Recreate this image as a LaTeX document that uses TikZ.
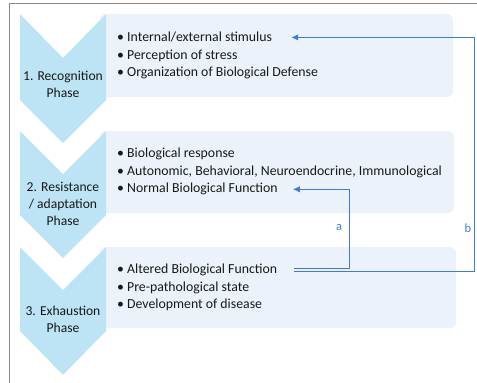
\documentclass[tikz,border=0pt]{standalone}
\usepackage{fontspec}
\setmainfont{Carlito}
\usetikzlibrary{calc,arrows.meta}
\definecolor{chev}{HTML}{BDE4F4}
\definecolor{boxc}{HTML}{EBF2F9}
\definecolor{arrc}{HTML}{3C7DD9}
\definecolor{framec}{HTML}{8A8A8A}
\begin{document}
\begin{tikzpicture}[x=1pt,y=-1pt,
  chevshape/.style={fill=chev,draw=none},
  panel/.style={fill=boxc,draw=none,rounded corners=6pt},
  item/.style={anchor=mid west,inner sep=0pt,font=\fontsize{13.8}{16}\selectfont,text=black!90},
  phase/.style={align=center,inner sep=0pt,font=\fontsize{13.6}{17}\selectfont,text=black!90},
  arr/.style={draw=arrc,line width=1pt,-{Latex[length=7pt,width=6.5pt]}},
  lab/.style={text=arrc,font=\fontsize{12.5}{14}\selectfont,inner sep=0pt}]
\useasboundingbox (0,0) rectangle (477,383);
% frame
\draw[framec,line width=0.8pt] (9,383) -- (9,3) -- (477,3);
% panels
\fill[panel] (100,14) rectangle (453,97);
\fill[panel] (100,131) rectangle (454,213);
\fill[panel] (100,247) rectangle (456,328);
% chevrons
\fill[chevshape] (20,14) -- (63,58) -- (106,14) -- (106,100) -- (63,143) -- (20,100) -- cycle;
\fill[chevshape] (20,131) -- (63,174) -- (106,131) -- (106,215) -- (63,258) -- (20,215) -- cycle;
\fill[chevshape] (20,247) -- (63,290) -- (106,247) -- (106,331) -- (63,375) -- (20,331) -- cycle;
% phase labels
\node[phase] (p1) at (63,84.5) {1. Recognition\\Phase};
\node[phase] (p2) at (63,204) {2. Resistance\\/ adaptation\\Phase};
\node[phase] (p3) at (63,319.5) {3. Exhaustion\\Phase};
% items
\node[item] (r1l1) at (117,39.5) {• Internal/external stimulus};
\node[item] (r1l2) at (117,57) {• Perception of stress};
\node[item] (r1l3) at (117,74.5) {• Organization of Biological Defense};
\node[item] (r2l1) at (117,155.5) {• Biological response};
\node[item] (r2l2) at (117,173) {• Autonomic, Behavioral, Neuroendocrine, Immunological};
\node[item] (r2l3) at (117,190.5) {• Normal Biological Function};
\node[item] (r3l1) at (117,271.5) {• Altered Biological Function};
\node[item] (r3l2) at (117,289) {• Pre-pathological state};
\node[item] (r3l3) at (117,306.5) {• Development of disease};
% connectors
\coordinate (aR) at (349,0);
\coordinate (bR) at (474,0);
\draw[arr] ([xshift=17pt,yshift=2pt]r3l1.east) -| (aR |- r2l3.east) -- ([xshift=15pt]r2l3.east);
\draw[arr] ([xshift=17pt,yshift=-1.5pt]r3l1.east) -| (bR |- r1l1.east) -- ([xshift=19pt]r1l1.east);
\node[lab] (la) at (339,228) {a};
\node[lab] (lb) at (468,228) {b};
\end{tikzpicture}
\end{document}
